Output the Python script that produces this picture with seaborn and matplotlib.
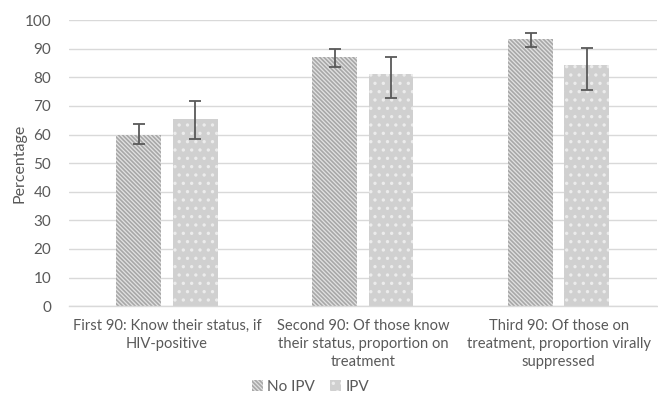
import matplotlib
matplotlib.use("Agg")
import matplotlib.pyplot as plt
import seaborn as sns
import pandas as pd
import numpy as np
from matplotlib.patches import Patch

categories = ["First 90: Know their status, if\nHIV-positive",
              "Second 90: Of those know\ntheir status, proportion on\ntreatment",
              "Third 90: Of those on\ntreatment, proportion virally\nsuppressed"]
groups = ["No IPV", "IPV"]
no_ipv = [60.0, 87.1, 93.4]
no_ipv_lo = [56.6, 83.6, 90.6]
no_ipv_hi = [63.6, 90.0, 95.5]
ipv = [65.4, 81.1, 84.3]
ipv_lo = [58.4, 72.7, 75.5]
ipv_hi = [71.7, 87.1, 90.2]

df = pd.DataFrame({
    "cat": categories * 2,
    "grp": [groups[0]] * 3 + [groups[1]] * 3,
    "val": no_ipv + ipv,
    "lo": no_ipv_lo + ipv_lo,
    "hi": no_ipv_hi + ipv_hi,
})

sns.set_style("white")
plt.rcParams['font.family'] = ['Lato', 'DejaVu Sans']
plt.rcParams['hatch.linewidth'] = 1.2

fig = plt.figure(figsize=(6.58, 3.96), dpi=100)
ax = fig.add_axes([0.105, 0.227, 0.893, 0.722])

sns.barplot(data=df, x="cat", y="val", hue="grp", hue_order=groups,
            order=categories, width=0.574, gap=0.2, errorbar=None,
            palette=["#e4e4e4", "#d0d0d0"], legend=False, ax=ax, zorder=2)

styles = {
    "No IPV": dict(facecolor="#e2e2e2", edgecolor="#a8a8a8", hatch="\\" * 8),
    "IPV": dict(facecolor="#d0d0d0", edgecolor="#ececec", hatch=".."),
}
for container, g in zip(ax.containers, groups):
    sub = df[df.grp == g].set_index("cat").loc[categories]
    xs = []
    for bar in container:
        bar.set_facecolor(styles[g]["facecolor"])
        bar.set_edgecolor(styles[g]["edgecolor"])
        bar.set_hatch(styles[g]["hatch"])
        bar.set_linewidth(0)
        xs.append(bar.get_x() + bar.get_width() / 2)
    vals = sub["val"].to_numpy()
    yerr = np.vstack([vals - sub["lo"].to_numpy(), sub["hi"].to_numpy() - vals])
    ax.errorbar(xs, vals, yerr=yerr, fmt="none", ecolor="#595959",
                elinewidth=1.3, capsize=4.5, capthick=1.3, zorder=3)

ax.set_ylim(0, 100)
ax.set_xlim(-0.5, 2.5)
ax.set_yticks(range(0, 101, 10))
ax.grid(axis="y", color="#d9d9d9", linewidth=1.0, zorder=0)
ax.set_axisbelow(True)
for s in ["top", "right", "left"]:
    ax.spines[s].set_visible(False)
ax.spines["bottom"].set_color("#d9d9d9")
ax.spines["bottom"].set_linewidth(1.0)
ax.tick_params(axis="both", length=0, colors="#595959")
ax.tick_params(axis="x", pad=9, labelsize=10.6)
ax.tick_params(axis="y", pad=13, labelsize=11)
for lab in ax.get_xticklabels():
    lab.set_linespacing(1.4)
ax.set_xlabel("")
ax.set_ylabel("Percentage", color="#595959", fontsize=11.5)
ax.yaxis.set_label_coords(-0.072, 0.5)

handles = [Patch(**styles[g], linewidth=0, label=g) for g in groups]
fig.legend(handles=handles, loc="lower center", ncol=2, frameon=False,
           fontsize=11, labelcolor="#595959", bbox_to_anchor=(0.472, -0.03),
           handlelength=0.7, handleheight=0.7, handletextpad=0.3, columnspacing=1.0)

fig.savefig("out.png", dpi=100)
